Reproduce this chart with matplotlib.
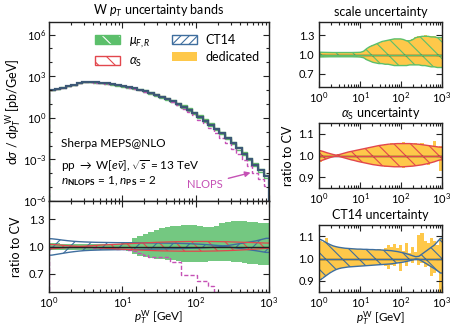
import numpy as np
import matplotlib
matplotlib.use("Agg")
import matplotlib.pyplot as plt
from matplotlib.patches import Patch
from matplotlib.ticker import LogLocator, NullFormatter, FixedLocator

plt.rcParams["font.family"] = ["Lato", "DejaVu Sans"]
plt.rcParams["mathtext.fontset"] = "custom"
plt.rcParams["mathtext.rm"] = "Lato"
plt.rcParams["mathtext.it"] = "Lato:italic"
plt.rcParams["mathtext.bf"] = "Lato:bold"
plt.rcParams["hatch.linewidth"] = 0.8

# ── data: 40 log bins from 1 to 1000 GeV ──────────────────────────
n_bins = 40
log_xsec = [2.00, 2.08, 2.17, 2.27, 2.38, 2.49, 2.56, 2.57, 2.55, 2.52,
            2.47, 2.41, 2.34, 2.27, 2.19, 2.11, 2.02, 1.92, 1.80, 1.67,
            1.52, 1.37, 1.20, 1.01, 0.80, 0.58, 0.34, 0.08, -0.20, -0.49,
            -0.80, -1.13, -1.48, -1.84, -2.21, -2.59, -2.98, -3.38, -3.79, -4.22]
nlops_ratio = [1.00, 1.00, 1.00, 1.00, 0.99, 0.99, 0.99, 0.99, 0.98, 0.98,
               0.98, 0.98, 0.97, 0.97, 0.96, 0.95, 0.93, 0.91, 0.89, 0.89,
               0.89, 0.89, 0.83, 0.83, 0.69, 0.69, 0.69, 0.62, 0.62, 0.57,
               0.50, 0.46, 0.43, 0.40, 0.37, 0.34, 0.31, 0.27, 0.23, 0.19]

scale_up = [1.035, 1.033, 1.032, 1.031, 1.030, 1.030, 1.030, 1.030, 1.030, 1.030,
            1.030, 1.031, 1.032, 1.034, 1.05, 1.09, 1.12, 1.14, 1.16, 1.18,
            1.20, 1.21, 1.22, 1.23, 1.24, 1.24, 1.24, 1.23, 1.21, 1.21,
            1.23, 1.26, 1.27, 1.28, 1.28, 1.28, 1.27, 1.27, 1.26, 1.26]
scale_dn = [0.962, 0.963, 0.964, 0.965, 0.965, 0.965, 0.965, 0.965, 0.965, 0.965,
            0.965, 0.964, 0.963, 0.960, 0.95, 0.92, 0.90, 0.88, 0.87, 0.86,
            0.86, 0.85, 0.85, 0.84, 0.83, 0.83, 0.83, 0.83, 0.83, 0.84,
            0.84, 0.84, 0.84, 0.83, 0.83, 0.82, 0.81, 0.81, 0.80, 0.80]

alphas_up = [1.022, 1.018, 1.013, 1.009, 1.005, 1.002, 1.004, 1.008, 1.012, 1.016,
             1.019, 1.022, 1.025, 1.028, 1.031, 1.034, 1.037, 1.040, 1.043, 1.046,
             1.048, 1.050, 1.052, 1.053, 1.054, 1.055, 1.055, 1.055, 1.055, 1.055,
             1.054, 1.053, 1.052, 1.050, 1.048, 1.046, 1.044, 1.042, 1.040, 1.038]
alphas_dn = [0.975, 0.980, 0.985, 0.990, 0.994, 0.998, 0.996, 0.992, 0.988, 0.984,
             0.980, 0.977, 0.973, 0.970, 0.967, 0.964, 0.961, 0.958, 0.956, 0.954,
             0.952, 0.951, 0.950, 0.949, 0.948, 0.948, 0.948, 0.948, 0.949, 0.950,
             0.951, 0.953, 0.955, 0.957, 0.960, 0.963, 0.967, 0.971, 0.976, 0.980]

ct14_up = [1.085, 1.078, 1.070, 1.063, 1.057, 1.053, 1.050, 1.048, 1.046, 1.045,
           1.044, 1.043, 1.042, 1.042, 1.041, 1.041, 1.040, 1.040, 1.039, 1.039,
           1.038, 1.037, 1.036, 1.035, 1.033, 1.031, 1.028, 1.025, 1.021, 1.017,
           1.012, 1.008, 1.010, 1.020, 1.030, 1.040, 1.050, 1.060, 1.075, 1.090]
ct14_dn = [0.905, 0.915, 0.925, 0.935, 0.943, 0.950, 0.955, 0.958, 0.960, 0.962,
           0.963, 0.964, 0.965, 0.966, 0.967, 0.968, 0.969, 0.970, 0.971, 0.972,
           0.973, 0.974, 0.975, 0.976, 0.978, 0.980, 0.982, 0.984, 0.987, 0.990,
           0.994, 0.998, 0.996, 0.988, 0.980, 0.972, 0.963, 0.955, 0.945, 0.935]

# dedicated runs (yellow)
ded_scale_up = [1.035, 1.033, 1.032, 1.031, 1.030, 1.030, 1.030, 1.030, 1.030, 1.030,
                1.030, 1.031, 1.032, 1.034, 1.05, 1.09, 1.12, 1.14, 1.16, 1.18,
                1.20, 1.21, 1.22, 1.23, 1.24, 1.24, 1.24, 1.23, 1.22, 1.22,
                1.24, 1.27, 1.28, 1.29, 1.30, 1.29, 1.28, 1.28, 1.27, 1.27]
ded_scale_dn = [0.962, 0.963, 0.964, 0.965, 0.965, 0.965, 0.965, 0.965, 0.965, 0.965,
                0.965, 0.964, 0.963, 0.960, 0.95, 0.92, 0.90, 0.88, 0.87, 0.86,
                0.86, 0.85, 0.85, 0.84, 0.83, 0.83, 0.83, 0.83, 0.83, 0.84,
                0.84, 0.84, 0.84, 0.83, 0.83, 0.82, 0.81, 0.81, 0.80, 0.80]
ded_alphas_up = [1.020, 1.016, 1.012, 1.008, 1.005, 1.004, 1.005, 1.008, 1.012, 1.016,
                 1.019, 1.022, 1.025, 1.028, 1.031, 1.034, 1.037, 1.040, 1.043, 1.046,
                 1.048, 1.052, 1.050, 1.056, 1.054, 1.060, 1.056, 1.062, 1.055, 1.058,
                 1.053, 1.056, 1.051, 1.058, 1.048, 1.050, 1.044, 1.068, 1.040, 1.045]
ded_alphas_dn = [0.972, 0.980, 0.985, 0.990, 0.994, 0.996, 0.996, 0.992, 0.988, 0.984,
                 0.980, 0.977, 0.973, 0.970, 0.967, 0.964, 0.961, 0.958, 0.956, 0.952,
                 0.952, 0.949, 0.950, 0.946, 0.948, 0.945, 0.948, 0.944, 0.949, 0.946,
                 0.951, 0.950, 0.955, 0.954, 0.960, 0.958, 0.967, 0.968, 0.976, 0.930]
ded_ct14_up = [1.080, 1.075, 1.090, 1.062, 1.056, 1.052, 1.050, 1.048, 1.046, 1.045,
               1.044, 1.043, 1.042, 1.042, 1.041, 1.041, 1.040, 1.040, 1.039, 1.042,
               1.038, 1.045, 1.060, 1.050, 1.065, 1.045, 1.060, 1.035, 1.070, 1.025,
               1.050, 1.030, 1.105, 1.115, 1.080, 1.070, 1.090, 1.080, 1.060, 1.090]
ded_ct14_dn = [0.905, 0.915, 0.925, 0.935, 0.943, 0.950, 0.955, 0.958, 0.960, 0.962,
               0.963, 0.964, 0.965, 0.966, 0.967, 0.968, 0.969, 0.970, 0.971, 0.970,
               0.973, 0.965, 0.955, 0.970, 0.965, 0.978, 0.945, 0.984, 0.965, 0.988,
               0.980, 0.992, 0.970, 0.978, 0.960, 0.965, 0.920, 0.935, 0.945, 0.850]

GREEN  = "#5cbf6b"
RED    = "#e2474d"
BLUE   = "#3f6e9e"
YELLOW = "#fec84a"
MAG    = "#c551b5"
CVCOL  = "#3d5876"

edges = np.logspace(0, 3, n_bins + 1)
centers = np.sqrt(edges[:-1] * edges[1:])
xs = np.concatenate([[edges[0]], centers, [edges[-1]]])


def pad(v):
    v = np.asarray(v, float)
    return np.concatenate([[v[0]], v, [v[-1]]])


W, H = 451, 327
fig = plt.figure(figsize=(W / 100, H / 100), dpi=100)


def box(x0, x1, y0, y1):
    return [x0 / W, 1 - y1 / H, (x1 - x0) / W, (y1 - y0) / H]


def style(ax):
    ax.set_xscale("log")
    ax.set_xlim(1, 1000)
    ax.tick_params(which="both", direction="in", top=True, right=True,
                   labelsize=8, width=0.8, color="#222222")
    ax.tick_params(which="major", length=4)
    ax.tick_params(which="minor", length=2)
    ax.tick_params(axis="x", pad=2.5)
    ax.xaxis.set_minor_locator(LogLocator(base=10, subs=np.arange(2, 10), numticks=20))
    ax.xaxis.set_minor_formatter(NullFormatter())
    for s in ax.spines.values():
        s.set_linewidth(1.0)
        s.set_color("#222222")


XLABEL = r"$p_T^{\mathrm{W}}$ [GeV]"

# ── main spectrum ───────────────────────────────────────────────────
ax = fig.add_axes(box(49, 269, 22, 201))
style(ax)
xsec = 10 ** np.array(log_xsec)
ax.set_yscale("log")
ax.set_ylim(1e-6, 8e6)
ax.yaxis.set_major_locator(FixedLocator([1e-6, 1e-3, 1, 1e3, 1e6]))
ax.yaxis.set_minor_locator(FixedLocator([10.0 ** k for k in range(-6, 7)]))
ax.yaxis.set_minor_formatter(NullFormatter())
ax.tick_params(labelbottom=False)
ax.tick_params(axis="y", pad=2)
ax.stairs(xsec * np.array(scale_up), edges, color=GREEN, lw=1)
ax.stairs(xsec * np.array(scale_dn), edges, color=GREEN, lw=1)
ax.stairs(xsec * np.array(alphas_up), edges, color=RED, lw=0.8)
ax.stairs(xsec * np.array(nlops_ratio), edges, color=MAG, lw=1, ls=(0, (3, 1.5)))
ax.stairs(xsec, edges, color=CVCOL, lw=1.6)
ax.set_ylabel(r"d$\sigma$ / d$p_T^{\,\mathrm{W}}$ [pb/GeV]", fontsize=9)
ax.yaxis.set_label_coords(-0.118, 0.5)
ax.set_title(r"W $p_T$ uncertainty bands", fontsize=9, pad=5)

h_scale = (Patch(facecolor=GREEN, edgecolor="white", hatch="\\\\", lw=0),
           Patch(facecolor="none", edgecolor=GREEN, lw=1))
h_as = (Patch(facecolor="white", edgecolor=RED, hatch="\\\\", lw=0),
        Patch(facecolor="none", edgecolor=RED, lw=1))
h_ct = (Patch(facecolor="white", edgecolor=BLUE, hatch="////", lw=0),
        Patch(facecolor="none", edgecolor=BLUE, lw=1))
h_ded = Patch(facecolor=YELLOW, edgecolor="none")
ax.legend([h_scale, h_as, h_ct, h_ded],
          [r"$\mu_{F,R}$", r"$\alpha_\mathrm{S}$", "CT14", "dedicated"],
          ncol=2, frameon=False, fontsize=9, loc="upper center",
          bbox_to_anchor=(0.585, 0.995), handlelength=2.0, handleheight=0.7,
          columnspacing=1.7, labelspacing=0.4, handletextpad=0.7)

ax.text(0.055, 0.324, "Sherpa MEPS@NLO", transform=ax.transAxes, fontsize=8.5,
        va="center")
ax.text(0.055, 0.196, r"pp $\rightarrow$ W[$e\bar{\nu}$], $\sqrt{s}$ = 13 TeV",
        transform=ax.transAxes, fontsize=8.5, va="center")
ax.text(0.055, 0.108, r"$n_{\mathbf{NLOPS}}$ = 1, $n_\mathbf{PS}$ = 2",
        transform=ax.transAxes, fontsize=8.5, va="center")
ax.annotate("NLOPS", xy=(560, 1.1e-4), xytext=(134, 1.6e-5), color=MAG,
            fontsize=8, ha="center", va="center",
            arrowprops=dict(arrowstyle="-|>", color=MAG, lw=1, mutation_scale=8,
                            shrinkA=2, shrinkB=0))

# ── main ratio ──────────────────────────────────────────────────────
ar = fig.add_axes(box(49, 269, 201, 292))
style(ar)
ar.set_ylim(0.5, 1.5)
ar.set_yticks([0.7, 1.0, 1.3])
ar.set_yticklabels(["0.7", "1.0", "1.3"])
ar.stairs(scale_up, edges, baseline=scale_dn, fill=True, color=GREEN, alpha=0.85, lw=0)
ar.fill_between(xs, pad(ct14_dn), pad(ct14_up), facecolor="none", edgecolor=BLUE,
                hatch="//", lw=0)
ar.plot(xs, pad(ct14_up), color=BLUE, lw=1)
ar.plot(xs, pad(ct14_dn), color=BLUE, lw=1)
ar.fill_between(xs, pad(alphas_dn), pad(alphas_up), facecolor="none", edgecolor=RED,
                hatch="\\\\", lw=0)
ar.plot(xs, pad(alphas_up), color=RED, lw=0.9)
ar.plot(xs, pad(alphas_dn), color=RED, lw=0.9)
ar.axhline(1.0, color="#222222", lw=1)
ar.stairs(nlops_ratio, edges, color=MAG, lw=1, ls=(0, (3, 1.5)))
ar.set_ylabel("ratio to CV", fontsize=9)
ar.yaxis.set_label_coords(-0.125, 0.5)
ar.set_xlabel(XLABEL, fontsize=8.5)
ar.xaxis.set_label_coords(0.5, -0.18)

# ── right panels ────────────────────────────────────────────────────
panels = [
    ((22, 87), "scale uncertainty", scale_up, scale_dn, ded_scale_up, ded_scale_dn,
     GREEN, (0.5, 1.5), [0.7, 1.0, 1.3]),
    ((123, 188), r"$\alpha_\mathrm{S}$ uncertainty", alphas_up, alphas_dn,
     ded_alphas_up, ded_alphas_dn, RED, (0.85, 1.15), [0.9, 1.0, 1.1]),
    ((225, 292), "CT14 uncertainty", ct14_up, ct14_dn, ded_ct14_up, ded_ct14_dn,
     BLUE, (0.85, 1.15), [0.9, 1.0, 1.1]),
]
for i, ((y0, y1), title, up, dn, dup, ddn, col, ylim, yt) in enumerate(panels):
    a = fig.add_axes(box(319, 442, y0, y1))
    style(a)
    a.set_ylim(*ylim)
    a.set_yticks(yt)
    a.set_yticklabels([f"{v:.1f}" for v in yt])
    a.stairs(dup, edges, baseline=ddn, fill=True, color=YELLOW, lw=0)
    a.fill_between(xs, pad(dn), pad(up), facecolor="none", edgecolor=col,
                   hatch="\\\\", lw=0)
    a.axhline(1.0, color="#222222", lw=1)
    a.plot(xs, np.ones_like(xs), color=col, lw=0.8)
    a.plot(xs, pad(up), color=col, lw=1)
    a.plot(xs, pad(dn), color=col, lw=1)
    a.set_title(title, fontsize=9, pad=4)
    if i == 1:
        a.set_ylabel("ratio to CV", fontsize=9, labelpad=3)
    if i == 2:
        a.set_xlabel(XLABEL, fontsize=8.5)
        a.xaxis.set_label_coords(0.5, -0.255)

fig.savefig("out.png", dpi=100)
